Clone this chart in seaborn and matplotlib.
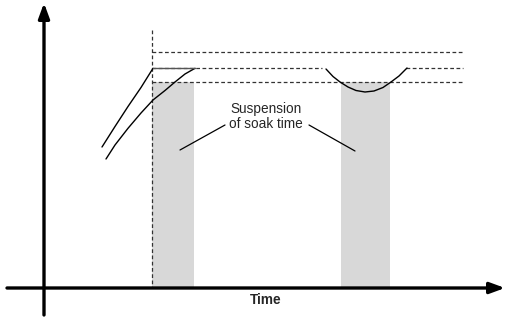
import matplotlib
matplotlib.use("Agg")
import matplotlib.pyplot as plt
import seaborn as sns
import pandas as pd

# schematic values, in picture units (x to the right, y downwards)
ramp_fast_x = [102, 115, 128, 141, 153]
ramp_fast_y = [147, 126.5, 106.5, 87.5, 68.3]
hold_x = [153, 195]
hold_y = [68.3, 68.3]
ramp_slow_x = [106, 115, 128, 141, 153, 165, 175, 185, 195]
ramp_slow_y = [159, 145, 128.3, 113, 100, 90.5, 82, 74, 68.3]
dip_x = [326, 333, 340, 348, 356, 365, 374, 383, 391, 399, 407]
dip_y = [69, 76.5, 82, 87, 90.5, 92, 91, 87.5, 82, 76, 68]

band_levels = [52, 82]          # upper / lower limit
setpoint = 68
setpoint_runs = [(152, 322), (406, 463)]
band_start, band_end = 152, 463

pause_left = [152, 341]
pause_width = [42, 49]
pause_top = 82

sns.set_style("white")
plt.rcParams['font.family'] = ['Liberation Sans', 'DejaVu Sans']

fig = plt.figure(figsize=(5.05, 3.18), dpi=100)
ax = fig.add_axes([0, 0, 1, 1])
ax.set_xlim(0, 505)
ax.set_ylim(318, 0)
ax.axis('off')

# grey suspension periods
ax.bar(pause_left, [288 - pause_top] * 2, width=pause_width, bottom=pause_top,
       align='edge', color='#d8d8d8', linewidth=0, zorder=1)

# dashed limits
dash = dict(color='#333333', lw=0.9, linestyles=(0, (3, 2)), zorder=2)
ax.hlines(band_levels, band_start, band_end, **dash)
for a, b in setpoint_runs:
    ax.hlines(setpoint, a, b, **dash)
ax.vlines(152, 30, 288, **dash)

# process curves
curves = [(ramp_fast_x, ramp_fast_y, 'black'), (ramp_slow_x, ramp_slow_y, 'black'),
          (hold_x, hold_y, '#555555'), (dip_x, dip_y, 'black')]
for xs, ys, c in curves:
    sns.lineplot(data=pd.DataFrame({'x': xs, 'y': ys}), x='x', y='y', sort=False,
                 estimator=None, color=c, lw=1.0, ax=ax, zorder=3)
ax.set_xlabel('')
ax.set_ylabel('')

# axes arrows
arrow = dict(arrowstyle='-|>,head_length=0.9,head_width=0.33', lw=2.4, color='black',
             shrinkA=0, shrinkB=0)
ax.annotate('', xy=(44, 3), xytext=(44, 315), arrowprops=arrow)
ax.annotate('', xy=(505, 288), xytext=(7, 288), arrowprops=arrow)

# label with leaders
ax.text(266, 116.5, 'Suspension\nof soak time', ha='center', va='center',
        fontsize=9.8, linespacing=1.15, multialignment='center')
ax.plot([180, 225], [150, 125], color='black', lw=0.9)
ax.plot([309, 355], [125, 151], color='black', lw=0.9)

ax.text(266, 300, 'Time', ha='center', va='center', fontsize=9.8, fontweight='bold')

fig.savefig('out.png', dpi=100)
